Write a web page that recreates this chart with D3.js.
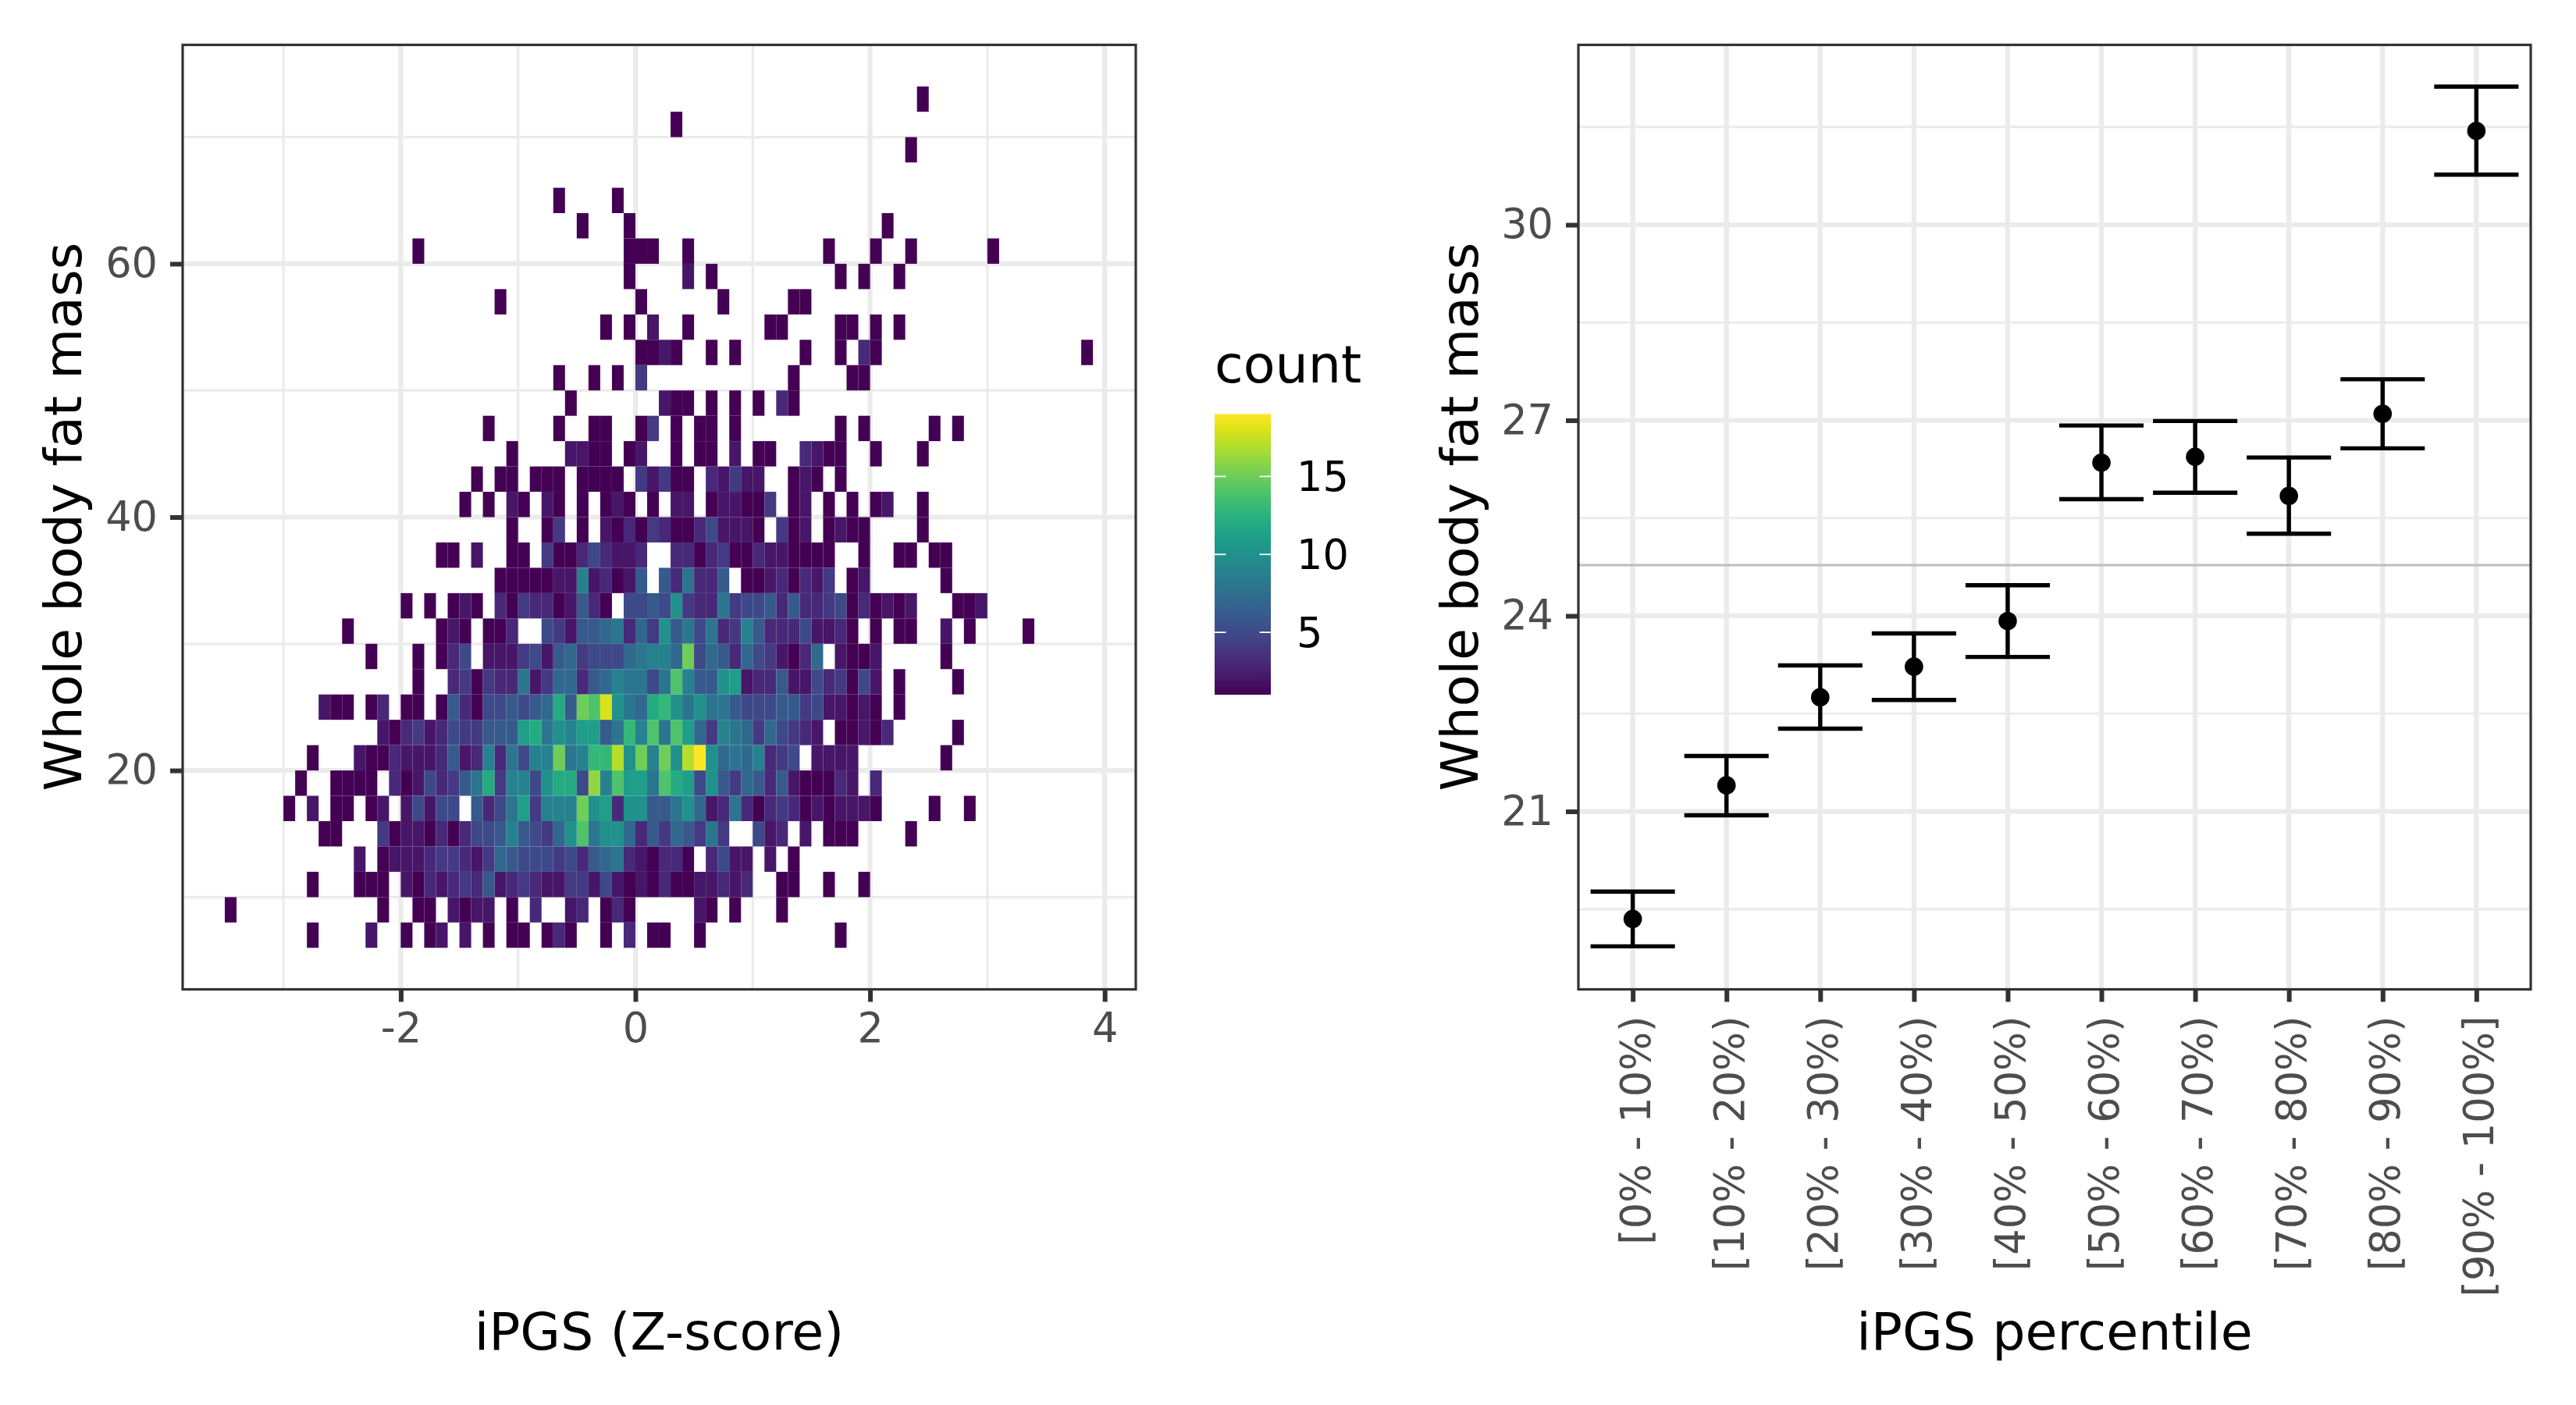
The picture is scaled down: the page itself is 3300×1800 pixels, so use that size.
<!DOCTYPE html>
<html>
  <head>
    <meta charset="utf-8">
    <title>iPGS and whole body fat mass</title>
    <style>
      body { margin: 0; background: white; }
      svg text { font-family: "DejaVu Sans"; }
      .tick text { fill: #4d4d4d; font-size: 52.5px; }
      .tick line { stroke: #333333; stroke-width: 6; }
      .domain { display: none; }
      .title { font-size: 66.7px; fill: black; }
      .border { fill: none; stroke: #333333; stroke-width: 3.2; }
      .major { stroke: #ebebeb; stroke-width: 6.2; }
      .minor { stroke: #ebebeb; stroke-width: 3.2; }
    </style>
  </head>
  <body>
    <svg width="3300" height="1800"></svg>
    <script src="https://cdn.jsdelivr.net/npm/d3@7"></script>
    <script>
      // 2d histogram: bin width 0.1 on x, 2 on y. Each row starts at a lower y edge,
      // firstBins is the x bin (units of 0.1) of the first count in the row.
      var binWidthX = 0.1;
      var binWidthY = 2;
      var rowStarts = [72, 70, 68, 64, 62, 60, 58, 56, 54, 52, 50, 48, 46, 44, 42, 40, 38, 36, 34, 32, 30, 28, 26, 24, 22, 20, 18, 16, 14, 12, 10, 8, 6];
      var firstBins = [24, 3, 23, -7, -5, -19, -1, -12, -3, 0, -7, -6, -13, -11, -14, -15, -11, -17, -12, -20, -25, -23, -19, -27, -22, -28, -29, -30, -27, -24, -28, -35, -28];
      var rowCounts = [
        [1],
        [1],
        [1],
        [1,0,0,0,0,1],
        [1,0,0,0,1,0,0,0,0,0,0,0,0,0,0,0,0,0,0,0,0,0,0,0,0,0,1],
        [1,0,0,0,0,0,0,0,0,0,0,0,0,0,0,0,0,0,1,1,1,0,0,1,0,0,0,0,0,0,0,0,0,0,0,1,0,0,0,1,0,0,1,0,0,0,0,0,0,1],
        [1,0,0,0,0,2,0,1,0,0,0,0,0,0,0,0,0,0,1,0,1,0,0,1],
        [1,0,0,0,0,0,0,0,0,0,0,0,1,0,0,0,0,0,0,1,0,0,0,0,0,1,1],
        [1,0,1,0,2,0,0,1,0,0,0,0,0,0,1,1,0,0,0,0,1,1,0,1,0,1],
        [1,1,2,1,0,0,1,0,1,0,0,0,0,0,1,0,0,1,0,3,1,0,0,0,0,0,0,0,0,0,0,0,0,0,0,0,0,0,1],
        [1,0,0,1,0,1,0,4,0,0,0,0,0,0,0,0,0,0,0,0,1,0,0,0,0,1,1],
        [1,0,0,0,0,0,0,0,2,1,1,0,1,0,1,0,1,0,3,1],
        [1,0,0,0,0,0,1,0,0,1,1,0,0,1,4,0,1,0,1,1,0,1,0,0,0,0,0,0,0,0,1,0,1,0,0,0,0,0,1,0,1],
        [1,0,0,0,0,2,2,1,1,0,1,2,0,0,1,0,1,1,0,2,0,1,1,0,0,3,2,1,1,0,0,1,0,0,0,1],
        [1,0,1,1,0,1,1,1,0,1,1,1,1,0,4,2,4,1,1,0,3,2,4,2,2,0,0,1,2,1,0,1],
        [1,0,1,0,2,1,0,2,1,0,1,0,1,2,1,0,1,0,2,2,0,1,2,2,1,1,4,0,1,2,0,1,0,1,0,1,2,0,0,1],
        [1,0,0,1,4,0,1,0,2,1,3,1,4,3,1,1,3,5,2,2,2,1,0,4,1,2,0,1,2,1,1,0,0,0,0,1],
        [1,1,0,2,0,0,1,1,0,4,1,1,3,5,3,2,2,3,0,0,3,3,1,3,4,1,1,3,2,2,1,1,1,1,0,0,1,0,0,1,1,0,1,1],
        [1,1,1,1,1,2,2,9,2,3,1,2,6,0,6,3,8,3,3,6,0,1,1,2,3,1,3,2,4,0,1,2,0,0,0,0,0,0,1],
        [1,0,1,0,1,2,1,0,3,1,4,3,3,1,2,6,3,1,0,5,5,6,5,10,4,3,3,8,4,5,5,6,3,6,3,3,4,5,1,3,1,2,1,2,0,0,0,1,1,2],
        [1,0,0,0,0,0,0,0,1,2,1,0,1,1,3,0,0,5,4,2,6,6,7,8,3,7,4,10,6,8,5,8,3,4,9,6,3,3,3,5,2,2,3,1,0,1,0,1,1,0,0,2,0,1,0,0,0,0,1],
        [1,0,0,0,1,0,1,3,5,0,2,2,2,4,5,2,6,7,4,5,5,5,7,8,9,9,7,15,5,7,6,3,7,5,4,2,1,3,7,0,2,1,1,2,0,0,0,0,0,1],
        [1,0,0,3,4,1,4,3,3,8,2,4,7,7,3,6,7,9,8,8,5,8,14,9,6,6,10,11,2,3,3,6,2,2,5,3,4,1,5,2,0,1,0,0,0,0,1],
        [2,1,1,0,1,3,0,1,1,0,1,6,3,1,5,5,6,5,6,7,12,6,15,14,18,10,8,7,12,13,10,8,10,8,8,6,5,5,5,6,6,4,5,2,2,1,2,1,0,1],
        [2,1,3,4,2,3,5,4,4,6,6,6,11,12,8,10,9,11,11,6,8,13,9,14,8,14,11,7,4,9,8,7,4,7,5,4,3,2,0,1,1,2,1,3,0,0,0,0,0,1],
        [1,0,0,0,2,1,1,3,2,2,2,3,6,2,3,9,3,8,5,9,9,15,8,9,13,13,17,10,15,9,15,10,17,19,10,7,8,7,9,3,4,5,0,2,2,2,2,0,0,0,0,0,0,0,1],
        [1,0,0,1,1,1,1,0,3,1,2,5,3,4,6,8,12,4,9,9,5,10,12,12,5,16,9,14,11,11,8,14,12,11,5,10,6,4,7,6,3,6,2,1,1,1,3,2,0,3],
        [1,0,2,0,1,1,0,1,2,0,2,5,2,5,5,0,6,3,5,8,11,4,9,9,9,15,10,11,3,10,10,6,6,8,10,7,2,3,8,3,1,3,4,3,1,2,1,2,2,2,1,0,0,0,0,1,0,0,1],
        [1,1,0,0,0,4,1,2,2,1,3,1,3,5,5,6,9,6,5,4,7,10,14,8,10,10,7,3,6,4,7,6,4,8,4,0,0,5,2,3,0,2,0,1,1,1,0,0,0,0,1],
        [2,0,1,2,2,2,3,4,4,3,2,4,7,6,5,5,5,4,5,3,6,7,8,3,2,1,3,3,1,0,3,5,2,2,0,2,0,1],
        [1,0,0,0,1,1,1,0,2,1,3,2,3,4,3,6,2,3,4,3,2,2,4,4,2,5,2,1,2,1,3,1,1,2,2,3,2,3,0,0,1,1,0,0,1,0,0,1],
        [1,0,0,0,0,0,0,0,0,0,0,0,0,1,0,0,1,1,0,2,1,2,2,0,1,0,3,0,0,2,3,0,1,3,1,0,0,0,0,0,2,1,0,1,0,0,0,1],
        [1,0,0,0,0,2,0,0,1,0,1,2,0,2,0,1,0,1,1,0,1,3,1,0,0,1,0,3,0,1,1,0,0,1,0,0,0,0,0,0,0,0,0,0,0,1]
      ];

      // Percentile panel.
      var percentileLabels = ["[0% - 10%)", "[10% - 20%)", "[20% - 30%)", "[30% - 40%)", "[40% - 50%)", "[50% - 60%)", "[60% - 70%)", "[70% - 80%)", "[80% - 90%)", "[90% - 100%]"];
      var meanFat = [19.35, 21.40, 22.75, 23.22, 23.92, 26.35, 26.44, 25.84, 27.10, 31.44];
      var upperFat = [19.77, 21.85, 23.24, 23.73, 24.47, 26.92, 26.99, 26.43, 27.63, 32.12];
      var lowerFat = [18.93, 20.94, 22.27, 22.71, 23.37, 25.79, 25.89, 25.26, 26.57, 30.77];
      var overallMean = 24.78;

      var hexTicksX = [-2, 0, 2, 4];
      var hexTicksY = [20, 40, 60];
      var hexMinorX = [-3, -1, 1, 3];
      var hexMinorY = [10, 30, 50, 70];
      var pctTicksY = [21, 24, 27, 30];
      var pctMinorY = [19.5, 22.5, 25.5, 28.5, 31.5];
      var legendTicks = [5, 10, 15];

      var svg = d3.select("svg");
      var leftPanel = { x0: 234, x1: 1455, y0: 57.5, y1: 1267.5 };
      var rightPanel = { x0: 2022, x1: 3242, y0: 57.5, y1: 1267.5 };

      var xHex = d3.scaleLinear().domain([-3.859, 4.265]).range([leftPanel.x0, leftPanel.x1]);
      var yHex = d3.scaleLinear().domain([2.72, 77.28]).range([leftPanel.y1, leftPanel.y0]);
      var xPct = d3.scalePoint().domain(percentileLabels).range([rightPanel.x0, rightPanel.x1]).padding(0.58);
      var yPct = d3.scaleLinear().domain([18.27, 32.76]).range([rightPanel.y1, rightPanel.y0]);
      var colour = d3.scaleSequential(d3.interpolateViridis).domain([1, 19]);

      function grid(panel, className, xs, ys) {
        var g = svg.append("g");
        g.selectAll("line.v").data(xs).enter().append("line")
          .attr("class", className)
          .attr("x1", d => d).attr("x2", d => d)
          .attr("y1", panel.y0).attr("y2", panel.y1);
        g.selectAll("line.h").data(ys).enter().append("line")
          .attr("class", className)
          .attr("x1", panel.x0).attr("x2", panel.x1)
          .attr("y1", d => d).attr("y2", d => d);
      }

      // Left panel grid and tiles.
      grid(leftPanel, "minor", hexMinorX.map(xHex), hexMinorY.map(yHex));
      grid(leftPanel, "major", hexTicksX.map(xHex), hexTicksY.map(yHex));

      var cells = [];
      rowCounts.forEach(function(row, r) {
        row.forEach(function(n, i) {
          if (n > 0) cells.push({ y: rowStarts[r], bin: firstBins[r] + i, n: n });
        });
      });
      svg.append("g").selectAll("rect").data(cells).enter().append("rect")
        .attr("x", d => xHex(d.bin * binWidthX))
        .attr("width", d => xHex((d.bin + 1) * binWidthX) - xHex(d.bin * binWidthX))
        .attr("y", d => yHex(d.y + binWidthY))
        .attr("height", d => yHex(d.y) - yHex(d.y + binWidthY))
        .attr("fill", d => colour(d.n));

      // Right panel grid, reference line and error bars.
      grid(rightPanel, "minor", [], pctMinorY.map(yPct));
      grid(rightPanel, "major", percentileLabels.map(d => xPct(d)), pctTicksY.map(yPct));

      svg.append("line")
        .attr("x1", rightPanel.x0).attr("x2", rightPanel.x1)
        .attr("y1", yPct(overallMean)).attr("y2", yPct(overallMean))
        .attr("stroke", "#bebebe").attr("stroke-width", 3);

      var capHalf = xPct.step() * 0.45;
      var bars = svg.append("g").selectAll("g").data(percentileLabels).enter().append("g")
        .attr("stroke", "black").attr("stroke-width", 5.4);
      bars.append("line")
        .attr("x1", d => xPct(d)).attr("x2", d => xPct(d))
        .attr("y1", (d, i) => yPct(upperFat[i])).attr("y2", (d, i) => yPct(lowerFat[i]));
      bars.append("line")
        .attr("x1", d => xPct(d) - capHalf).attr("x2", d => xPct(d) + capHalf)
        .attr("y1", (d, i) => yPct(upperFat[i])).attr("y2", (d, i) => yPct(upperFat[i]));
      bars.append("line")
        .attr("x1", d => xPct(d) - capHalf).attr("x2", d => xPct(d) + capHalf)
        .attr("y1", (d, i) => yPct(lowerFat[i])).attr("y2", (d, i) => yPct(lowerFat[i]));
      bars.append("circle")
        .attr("cx", d => xPct(d)).attr("cy", (d, i) => yPct(meanFat[i]))
        .attr("r", 11.8).attr("fill", "black").attr("stroke", "none");

      // Panel borders.
      [leftPanel, rightPanel].forEach(function(p) {
        svg.append("rect").attr("class", "border")
          .attr("x", p.x0).attr("y", p.y0)
          .attr("width", p.x1 - p.x0).attr("height", p.y1 - p.y0);
      });

      // Axes.
      svg.append("g").attr("transform", `translate(0,${leftPanel.y1})`)
        .call(d3.axisBottom(xHex).tickValues(hexTicksX).tickFormat(String).tickSize(16).tickPadding(14));
      svg.append("g").attr("transform", `translate(${leftPanel.x0},0)`)
        .call(d3.axisLeft(yHex).tickValues(hexTicksY).tickFormat(String).tickSize(16).tickPadding(16));
      svg.append("g").attr("transform", `translate(${rightPanel.x0},0)`)
        .call(d3.axisLeft(yPct).tickValues(pctTicksY).tickFormat(String).tickSize(16).tickPadding(16));
      var pctAxis = svg.append("g").attr("transform", `translate(0,${rightPanel.y1})`)
        .call(d3.axisBottom(xPct).tickSize(16).tickPadding(14));
      pctAxis.selectAll("text")
        .attr("transform", "rotate(-90)")
        .attr("text-anchor", "end")
        .attr("x", -34).attr("y", 0).attr("dy", "0.41em");

      // Axis titles.
      function title(x, y, text, rotate) {
        svg.append("text").attr("class", "title")
          .attr("text-anchor", "middle")
          .attr("transform", `translate(${x},${y})` + (rotate ? " rotate(-90)" : ""))
          .text(text);
      }
      title(844.5, 1729, "iPGS (Z-score)", false);
      title(2632, 1729, "iPGS percentile", false);
      title(104, 662, "Whole body fat mass", true);
      title(1893, 662, "Whole body fat mass", true);

      // Colour bar legend.
      var legendX = 1556;
      var legendW = 72;
      var yLegend = d3.scaleLinear().domain([1, 19]).range([890, 530.5]);
      var gradient = svg.append("defs").append("linearGradient")
        .attr("id", "viridis").attr("x1", 0).attr("x2", 0).attr("y1", 1).attr("y2", 0);
      d3.range(0, 1.001, 0.05).forEach(function(t) {
        gradient.append("stop").attr("offset", t).attr("stop-color", d3.interpolateViridis(t));
      });
      svg.append("rect")
        .attr("x", legendX).attr("width", legendW)
        .attr("y", yLegend(19)).attr("height", yLegend(1) - yLegend(19))
        .attr("fill", "url(#viridis)");
      var legendTick = svg.append("g").selectAll("g").data(legendTicks).enter().append("g");
      legendTick.append("line")
        .attr("x1", legendX).attr("x2", legendX + legendW / 5)
        .attr("y1", yLegend).attr("y2", yLegend)
        .attr("stroke", "white").attr("stroke-width", 1.8);
      legendTick.append("line")
        .attr("x1", legendX + legendW * 4 / 5).attr("x2", legendX + legendW)
        .attr("y1", yLegend).attr("y2", yLegend)
        .attr("stroke", "white").attr("stroke-width", 1.8);
      legendTick.append("text")
        .attr("x", legendX + legendW + 33)
        .attr("y", yLegend).attr("dy", "0.36em")
        .attr("font-size", 52.5).attr("fill", "black")
        .text(String);
      svg.append("text").attr("class", "title")
        .attr("x", legendX).attr("y", 490)
        .text("count");
    </script>
  </body>
</html>
